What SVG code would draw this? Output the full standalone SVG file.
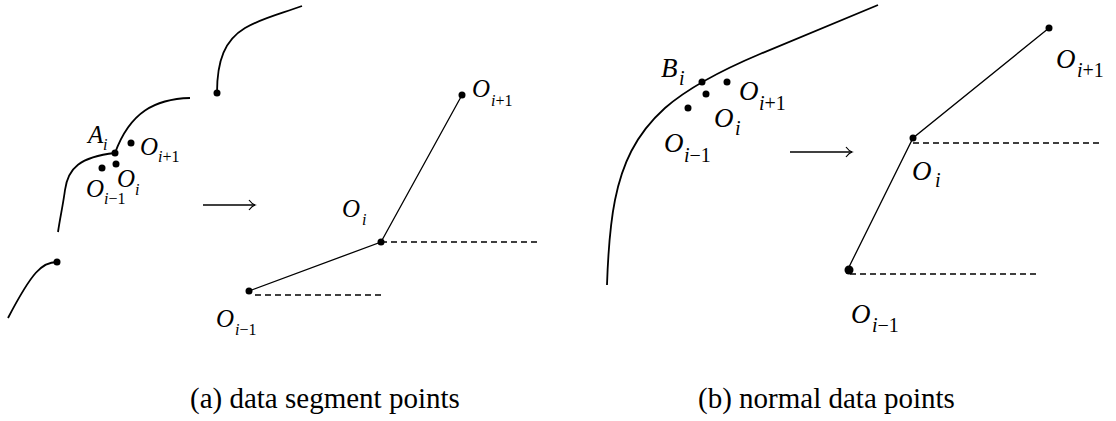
<svg xmlns="http://www.w3.org/2000/svg" width="1116" height="421" viewBox="0 0 1116 421">
<defs>
<marker id="arr" markerWidth="12" markerHeight="12" refX="10" refY="6" orient="auto" markerUnits="userSpaceOnUse">
<path d="M4,1 Q7,5 10,6 Q7,7 4,11" fill="none" stroke="#000" stroke-width="1.2"/>
</marker>
</defs>
<style>
.curve{fill:none;stroke:#000;stroke-width:1.8}
.seg{fill:none;stroke:#000;stroke-width:1.3}
.dash{fill:none;stroke:#000;stroke-width:1.3;stroke-dasharray:6,4}
.arrow{fill:none;stroke:#000;stroke-width:1.3}
.dot{fill:#000}
.lbl{font-family:"Liberation Serif","Times New Roman",serif;font-style:italic;font-size:25px;fill:#000}
.sub{font-size:16px}
.lblR{font-family:"Liberation Serif","Times New Roman",serif;font-style:italic;font-size:27px;fill:#000}
.subR{font-size:20px}
.up{font-style:normal}
.cap{font-family:"Liberation Serif","Times New Roman",serif;font-size:29px;fill:#000}
</style>
<rect width="1116" height="421" fill="#fff"/>

<g id="connectors">
<path class="curve" d="M217,93 C217,60 225,40 245,28 C262,18 280,14 302,6"/>
<path class="curve" d="M190,98 C155,99 130,112 115,153 C80,157 68,168 65,190 C63,205 60,218 58,232"/>
<path class="curve" d="M57,262 C42,262 32,272 8,318"/>
<line class="arrow" x1="203" y1="205" x2="255" y2="205" marker-end="url(#arr)"/>
<polyline class="seg" points="249,291 381,242 462,95"/>
<line class="dash" x1="381" y1="242" x2="538" y2="242"/>
<line class="dash" x1="255" y1="295" x2="382" y2="295"/>
<path class="curve" d="M878,5 L760,54 C722,70 688,88 665,108 C635,135 622,165 615,200 C610,225 608,255 607,285"/>
<line class="arrow" x1="790" y1="152" x2="852" y2="152" marker-end="url(#arr)"/>
<polyline class="seg" points="848,269 913,138 1049,28"/>
<line class="dash" x1="913" y1="143" x2="1101" y2="143"/>
<line class="dash" x1="850" y1="274" x2="1037" y2="274"/>
</g>

<g id="left-ends">
<circle class="dot" cx="217" cy="93" r="3.5"/>
<circle class="dot" cx="57" cy="262" r="3.5"/>
</g>
<g id="A_i">
<circle class="dot" cx="115" cy="153" r="3.5"/>
<text class="lbl" x="88" y="143">A<tspan class="sub" x="103" y="150">i</tspan></text>
</g>
<g id="a-O_i+1">
<circle class="dot" cx="131" cy="143" r="3.5"/>
<text class="lbl" x="140" y="155">O<tspan class="sub" x="158" y="162">i<tspan class="up">+1</tspan></tspan></text>
</g>
<g id="a-O_i-1">
<circle class="dot" cx="102" cy="168" r="3.5"/>
<text class="lbl" x="86" y="197">O<tspan class="sub" x="104" y="204">i<tspan class="up">−1</tspan></tspan></text>
</g>
<g id="a-O_i">
<circle class="dot" cx="116" cy="164" r="3.5"/>
<text class="lbl" x="117" y="187">O<tspan class="sub" x="135" y="195">i</tspan></text>
</g>

<g id="m-O_i+1">
<circle class="dot" cx="462" cy="95" r="3.5"/>
<text class="lbl" x="472" y="97">O<tspan class="sub" x="491" y="106">i<tspan class="up">+1</tspan></tspan></text>
</g>
<g id="m-O_i">
<circle class="dot" cx="381" cy="242" r="3.5"/>
<text class="lbl" x="342" y="217">O<tspan class="sub" x="362" y="225">i</tspan></text>
</g>
<g id="m-O_i-1">
<circle class="dot" cx="249" cy="291" r="3.5"/>
<text class="lbl" x="216" y="327">O<tspan class="sub" x="235" y="335">i<tspan class="up">−1</tspan></tspan></text>
</g>

<g id="B_i">
<circle class="dot" cx="702" cy="82" r="3.5"/>
<text class="lblR" x="661" y="77">B<tspan class="subR" x="679" y="85">i</tspan></text>
</g>
<g id="b-O_i+1">
<circle class="dot" cx="727" cy="82" r="3.5"/>
<text class="lblR" x="739" y="100">O<tspan class="subR" x="759" y="110">i<tspan class="up">+1</tspan></tspan></text>
</g>
<g id="b-O_i">
<circle class="dot" cx="706" cy="94" r="3.5"/>
<text class="lblR" x="714" y="127">O<tspan class="subR" x="735" y="135">i</tspan></text>
</g>
<g id="b-O_i-1">
<circle class="dot" cx="688" cy="108" r="3.5"/>
<text class="lblR" x="664" y="152">O<tspan class="subR" x="684" y="162">i<tspan class="up">−1</tspan></tspan></text>
</g>

<g id="r-O_i+1">
<circle class="dot" cx="1049" cy="28" r="3.5"/>
<text class="lblR" x="1056" y="68">O<tspan class="subR" x="1077" y="77">i<tspan class="up">+1</tspan></tspan></text>
</g>
<g id="r-O_i">
<circle class="dot" cx="913" cy="138" r="3.5"/>
<text class="lblR" x="912" y="180">O<tspan class="subR" x="935" y="187">i</tspan></text>
</g>
<g id="r-O_i-1">
<circle class="dot" cx="849" cy="270" r="4.5"/>
<text class="lblR" x="851" y="323">O<tspan class="subR" x="872" y="332">i<tspan class="up">−1</tspan></tspan></text>
</g>

<g id="captions">
<text class="cap" x="190" y="408">(a) data segment points</text>
<text class="cap" x="698" y="408">(b) normal data points</text>
</g>
</svg>
